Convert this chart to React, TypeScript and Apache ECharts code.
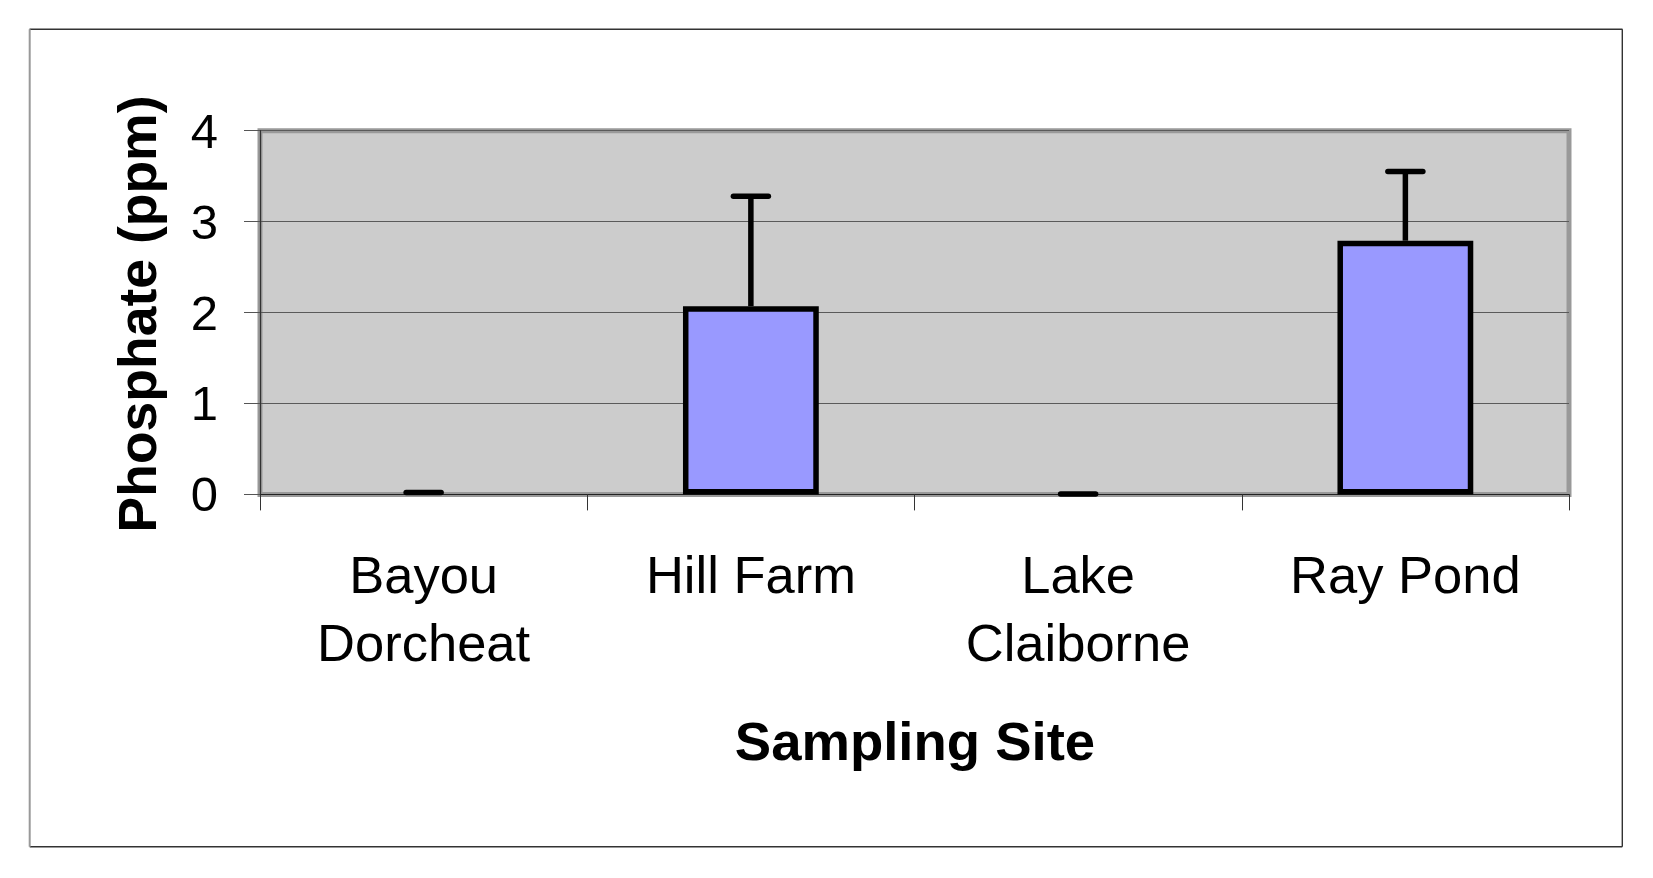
import React, { useEffect, useRef } from "react";
import * as echarts from "echarts";

const categories = ["Bayou\nDorcheat", "Hill Farm", "Lake\nClaiborne", "Ray Pond"];
const means = [0, 2.07, 0, 2.79];
const errors = [0.02, 1.21, 0.005, 0.76];
const yTicks = { min: 0, max: 4, interval: 1 };
const xTitle = "Sampling Site";
const yTitle = "Phosphate (ppm)";

const FONT = "'Liberation Sans', Arial, sans-serif";

export default function App() {
  const ref = useRef<HTMLDivElement>(null);
  useEffect(() => {
    if (!ref.current) return;
    const chart = echarts.init(ref.current, null, { renderer: "svg" });
    const gridLeft = 260;
    const gridTop = 130.7;
    const gridRight = 1569;
    const gridBottom = 494.4;
    chart.setOption({
      animation: false,
      backgroundColor: "#ffffff",
      textStyle: { fontFamily: FONT },
      grid: {
        left: gridLeft,
        top: gridTop,
        width: gridRight - gridLeft,
        height: gridBottom - gridTop,
        show: true,
        backgroundColor: "#cccccc",
        borderColor: "#999999",
        borderWidth: 5,
        containLabel: false,
      },
      xAxis: {
        type: "category",
        data: categories,
        boundaryGap: true,
        axisLine: { show: true, lineStyle: { color: "#222222", width: 1.2 } },
        axisTick: { show: true, length: 16, alignWithLabel: false, lineStyle: { color: "#333333", width: 1 } },
        axisLabel: {
          show: true,
          interval: 0,
          fontFamily: FONT,
          fontSize: 52.5,
          lineHeight: 68,
          color: "#000000",
          margin: 46,
          verticalAlign: "top",
        },
        splitLine: { show: false },
      },
      yAxis: {
        type: "value",
        min: yTicks.min,
        max: yTicks.max,
        interval: yTicks.interval,
        axisLine: { show: true, lineStyle: { color: "#333333", width: 1.2 } },
        axisTick: { show: true, length: 16, lineStyle: { color: "#555555", width: 1 } },
        axisLabel: { fontFamily: FONT, fontSize: 49, color: "#000000", margin: 42 },
        splitLine: { show: true, lineStyle: { color: "#5a5a5a", width: 1.2 } },
      },
      graphic: [
        { type: "line", shape: { x1: 29.5, y1: 29.3, x2: 1622.5, y2: 29.3 }, style: { stroke: "#333333", lineWidth: 1.4 } },
        { type: "line", shape: { x1: 1622.3, y1: 29.3, x2: 1622.3, y2: 846.7 }, style: { stroke: "#333333", lineWidth: 1.4 } },
        { type: "line", shape: { x1: 29.7, y1: 846.7, x2: 1622.3, y2: 846.7 }, style: { stroke: "#333333", lineWidth: 1.4 } },
        { type: "line", shape: { x1: 29.7, y1: 29.3, x2: 29.7, y2: 846.7 }, style: { stroke: "#999999", lineWidth: 2 } },
        {
          type: "text",
          x: 915,
          y: 741,
          style: {
            text: xTitle,
            fontFamily: FONT,
            fontWeight: "bold",
            fontSize: 54.5,
            fill: "#000000",
            textAlign: "center",
            textVerticalAlign: "middle",
          },
        },
        {
          type: "text",
          x: 137,
          y: 314,
          rotation: Math.PI / 2,
          style: {
            text: yTitle,
            fontFamily: FONT,
            fontWeight: "bold",
            fontSize: 53.5,
            fill: "#000000",
            textAlign: "center",
            textVerticalAlign: "middle",
          },
        },
      ],
      series: [
        {
          type: "bar",
          barWidth: "41.5%",
          data: means.map((v) => ({
            value: v,
            itemStyle: {
              color: "#9999ff",
              borderColor: "#000000",
              borderWidth: v === 0 ? 0 : 5.5,
            },
          })),
          z: 3,
        },
        {
          type: "custom",
          z: 4,
          data: means.map((m, i) => [i, m, errors[i]]),
          encode: { x: 0, y: 1 },
          renderItem: (params: any, api: any) => {
            const x = api.value(0);
            const m = api.value(1);
            const e = api.value(2);
            const base = api.coord([x, m]);
            const top = api.coord([x, m + e]);
            const half = 17.5;
            return {
              type: "group",
              children: [
                {
                  type: "line",
                  shape: { x1: base[0], y1: base[1], x2: top[0], y2: top[1] },
                  style: { stroke: "#000000", lineWidth: 5.5 },
                },
                {
                  type: "line",
                  shape: { x1: top[0] - half, y1: top[1], x2: top[0] + half, y2: top[1] },
                  style: { stroke: "#000000", lineWidth: 5.5, lineCap: "round" },
                },
              ],
            };
          },
        },
      ],
    });
    return () => chart.dispose();
  }, []);
  return (
    <div
      ref={ref}
      style={{ position: "absolute", left: 0, top: 0, width: 1653, height: 878, background: "#ffffff" }}
    />
  );
}
